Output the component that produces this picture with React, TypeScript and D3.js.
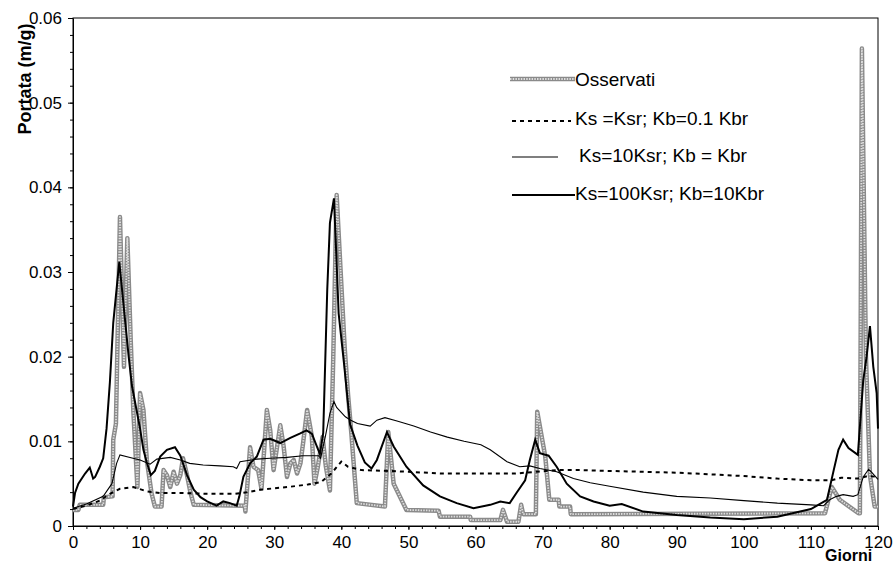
import React, { useRef, useEffect } from "react";
import * as d3 from "d3";

type Pt = [number, number];

// [giorno, portata m/g]
const osservati: Pt[] = [
  [0, 0.0019], [0.8, 0.0019], [1.0, 0.0025], [4.5, 0.0025], [4.6, 0.0034], [5.9, 0.0035],
  [6.0, 0.0102], [6.4, 0.0121], [7.0, 0.0365], [7.6, 0.0188], [8.1, 0.034], [8.6, 0.022],
  [9.0, 0.0135], [9.6, 0.0046], [10.0, 0.0157], [10.5, 0.0137], [11.0, 0.0078], [11.7, 0.0039],
  [12.2, 0.0023], [13.2, 0.0023], [13.5, 0.0066], [14.0, 0.006], [14.5, 0.0046], [15.0, 0.0064],
  [15.5, 0.005], [16.0, 0.006], [16.4, 0.008], [17.0, 0.006], [17.5, 0.004], [18.0, 0.0025],
  [25.6, 0.0024], [25.7, 0.0017], [26.4, 0.0093], [26.9, 0.007], [27.6, 0.0066], [28.1, 0.0044],
  [28.9, 0.0137], [29.4, 0.0113], [29.9, 0.0066], [30.9, 0.0119], [31.4, 0.0094], [31.9, 0.0058],
  [32.4, 0.0074], [32.9, 0.0078], [33.4, 0.0062], [33.9, 0.0074], [34.3, 0.0098], [34.9, 0.0137],
  [35.6, 0.0106], [36.0, 0.005], [36.5, 0.007], [37.2, 0.0105], [37.7, 0.007], [38.3, 0.0042],
  [38.8, 0.02], [39.3, 0.0391], [39.9, 0.03], [40.5, 0.021], [41.0, 0.0155], [41.5, 0.0109],
  [41.8, 0.0078], [42.3, 0.0027], [46.5, 0.0023], [47.0, 0.0111], [47.8, 0.005], [49.7, 0.0019],
  [54.5, 0.0018], [54.7, 0.0011], [59.2, 0.0011], [59.3, 0.0007], [63.7, 0.0007], [64.1, 0.0019],
  [64.7, 0.0005], [66.4, 0.0005], [66.8, 0.0025], [67.1, 0.0014], [69.0, 0.0014], [69.2, 0.0135],
  [70.4, 0.0082], [71.0, 0.0031], [72.4, 0.0031], [72.5, 0.0023], [74.1, 0.0023], [74.2, 0.0014],
  [112.1, 0.0015], [113.1, 0.0046], [114.3, 0.0031], [117.1, 0.0015], [117.3, 0.0015],
  [117.6, 0.0564], [118.2, 0.02], [118.8, 0.006], [119.5, 0.0023], [120, 0.0023],
];

// Ks =Ksr; Kb=0.1 Kbr
const simKsr: Pt[] = [
  [0, 0.002], [2, 0.0024], [4, 0.003], [5.5, 0.0038], [7, 0.0044], [9, 0.0046], [11, 0.0041],
  [13, 0.0039], [16, 0.0039], [20, 0.0038], [24, 0.0038], [26, 0.004], [28, 0.0043], [32, 0.0046],
  [35, 0.0049], [37, 0.0052], [38.5, 0.0062], [40, 0.0076], [41, 0.007], [43, 0.0066], [47, 0.0065],
  [50, 0.0064], [55, 0.0062], [60, 0.0062], [66, 0.0062], [69, 0.0064], [72, 0.0066], [76, 0.0066],
  [80, 0.0065], [85, 0.0064], [90, 0.0063], [95, 0.0061], [100, 0.0059], [105, 0.0056],
  [110, 0.0054], [113, 0.0054], [114.5, 0.0057], [117, 0.0056], [118.5, 0.0059], [120, 0.0058],
];

// Ks=10Ksr; Kb = Kbr
const sim10: Pt[] = [
  [0, 0.0021], [2, 0.0026], [4.5, 0.0035], [5.8, 0.005], [6.5, 0.0074], [7.0, 0.0084], [8.5, 0.0081],
  [10, 0.0078], [11.5, 0.0073], [12.5, 0.0079], [14.5, 0.0081], [16, 0.0078], [17.4, 0.0074],
  [19.4, 0.0072], [21.9, 0.0071], [23.9, 0.007], [24.4, 0.0068], [24.9, 0.0076], [27.4, 0.0079],
  [29.4, 0.008], [31.9, 0.0081], [34.3, 0.0083], [36.6, 0.0083], [36.9, 0.008], [37.6, 0.0105],
  [38.3, 0.0133], [38.9, 0.0147], [39.3, 0.014], [40.6, 0.0129], [41.4, 0.0125], [42.4, 0.0121],
  [44.3, 0.0118], [45.3, 0.0125], [46.5, 0.0128], [48.3, 0.0124], [50.8, 0.0118], [53.3, 0.0111],
  [55.8, 0.0105], [58.3, 0.01], [60.8, 0.0096], [62.2, 0.009], [64.7, 0.0076], [66.6, 0.007],
  [68.1, 0.0071], [69.6, 0.0068], [72.1, 0.0064], [74.6, 0.0056], [77.1, 0.0051], [80, 0.0047],
  [85, 0.004], [90, 0.0035], [95, 0.0033], [100, 0.003], [105, 0.0027], [110, 0.0025],
  [111.9, 0.0024], [112.8, 0.0031], [113.8, 0.0035], [114.8, 0.0037], [116.3, 0.0035],
  [117, 0.0037], [117.8, 0.0058], [118.6, 0.0067], [119.1, 0.0063], [120, 0.0055],
];

// Ks=100Ksr; Kb=10Kbr
const sim100: Pt[] = [
  [0, 0.0023], [0.3, 0.0039], [0.8, 0.005], [1.8, 0.0062], [2.5, 0.0069], [3.0, 0.0056], [3.3, 0.0058],
  [4.0, 0.007], [4.5, 0.008], [5.0, 0.0115], [5.5, 0.017], [6.0, 0.024], [6.5, 0.028], [6.9, 0.0312],
  [7.3, 0.028], [7.8, 0.024], [8.3, 0.02], [8.8, 0.0165], [9.4, 0.014], [10, 0.0115], [10.5, 0.009],
  [11, 0.0075], [11.6, 0.006], [12.2, 0.0065], [13, 0.0082], [14, 0.009], [15.2, 0.0093], [16, 0.0083],
  [17, 0.006], [18, 0.0043], [19, 0.0034], [20, 0.0029], [21.4, 0.0024], [22.4, 0.0029], [23.4, 0.0027],
  [24.4, 0.0024], [24.8, 0.0035], [25.4, 0.0058], [26.4, 0.0074], [27.4, 0.0082], [28.4, 0.0102],
  [29.4, 0.0103], [30.9, 0.0098], [32.4, 0.0104], [33.8, 0.0109], [34.8, 0.0113], [35.6, 0.0109],
  [36.8, 0.0085], [37.3, 0.011], [37.9, 0.0279], [38.3, 0.0358], [38.9, 0.0387], [39.2, 0.033],
  [39.6, 0.0251], [40.4, 0.0192], [41.3, 0.012], [42.4, 0.0095], [43.5, 0.0075], [44.5, 0.0068],
  [45.3, 0.0078], [46.8, 0.0111], [47.8, 0.0094], [49.7, 0.007], [52.2, 0.0048], [54.7, 0.0035],
  [57.2, 0.0027], [59.7, 0.0021], [62.2, 0.0025], [63.7, 0.0029], [65.1, 0.0027], [66.1, 0.0039],
  [67.4, 0.0054], [68.1, 0.0078], [68.9, 0.0102], [69.6, 0.0086], [70.9, 0.0083], [72.1, 0.007],
  [73.6, 0.005], [75.6, 0.0035], [77.6, 0.0029], [80, 0.0024], [81.8, 0.0026], [85, 0.0017],
  [90, 0.0013], [95, 0.001], [100, 0.0008], [105, 0.0011], [110, 0.002], [112.4, 0.0031],
  [113.4, 0.0066], [114.1, 0.009], [114.8, 0.0102], [115.6, 0.0092], [117, 0.0084], [117.3, 0.0117],
  [117.8, 0.0172], [118.3, 0.02], [118.8, 0.0236], [119.3, 0.0188], [119.8, 0.0157], [120, 0.0115],
];

const xTicks = [0, 10, 20, 30, 40, 50, 60, 70, 80, 90, 100, 110, 120];
const yTicks = [0, 0.01, 0.02, 0.03, 0.04, 0.05, 0.06];
const legendLabels = ["Osservati", "Ks =Ksr; Kb=0.1 Kbr", "Ks=10Ksr; Kb = Kbr", "Ks=100Ksr; Kb=10Kbr"];

const FONT = "Arial, 'Liberation Sans', sans-serif";

export default function App() {
  const svgRef = useRef<SVGSVGElement>(null);

  useEffect(() => {
    const svg = d3.select(svgRef.current);
    svg.selectAll("*").remove();

    const width = 893;
    const height = 566;
    const left = 73, right = 878, top = 18, bottom = 526;

    const x = d3.scaleLinear().domain([0, 120]).range([left, right]);
    const y = d3.scaleLinear().domain([0, 0.06]).range([bottom, top]);

    svg.attr("width", width).attr("height", height);
    svg.append("rect").attr("width", width).attr("height", height).attr("fill", "#fff");

    // frame
    svg.append("rect")
      .attr("x", left).attr("y", top)
      .attr("width", right - left).attr("height", bottom - top)
      .attr("fill", "none").attr("stroke", "#000").attr("stroke-width", 1);

    // Y axis minor + major
    const yMinor = svg.append("g").attr("transform", `translate(${left},0)`)
      .call(d3.axisLeft(y).tickValues(d3.range(0, 0.0601, 0.002)).tickSize(3).tickSizeOuter(0).tickFormat(() => ""));
    yMinor.select(".domain").remove();
    const yAxis = svg.append("g").attr("transform", `translate(${left},0)`)
      .call(d3.axisLeft(y).tickValues(yTicks).tickSize(5).tickSizeOuter(0).tickPadding(6)
        .tickFormat((d) => (+d === 0 ? "0" : (+d).toFixed(2))));
    yAxis.selectAll("text").attr("font-size", "17px").attr("font-family", FONT).attr("fill", "#000");

    // X axis minor + major
    const xMinor = svg.append("g").attr("transform", `translate(0,${bottom})`)
      .call(d3.axisBottom(x).tickValues(d3.range(0, 121, 2)).tickSize(3).tickSizeOuter(0).tickFormat(() => ""));
    xMinor.select(".domain").remove();
    const xAxis = svg.append("g").attr("transform", `translate(0,${bottom})`)
      .call(d3.axisBottom(x).tickValues(xTicks).tickSize(4).tickSizeOuter(0).tickPadding(18)
        .tickFormat((d) => `${d}`));
    xAxis.selectAll("text").attr("font-size", "17px").attr("font-family", FONT).attr("fill", "#000")
      .attr("dy", "0");

    svg.selectAll(".domain").attr("stroke", "#000");
    svg.selectAll(".tick line").attr("stroke", "#000");

    // axis titles
    svg.append("text")
      .attr("transform", `translate(31,79) rotate(-90)`)
      .attr("text-anchor", "middle")
      .attr("font-family", FONT).attr("font-weight", "bold").attr("font-size", "18px")
      .text("Portata (m/g)");
    svg.append("text")
      .attr("x", 825).attr("y", 561)
      .attr("font-family", FONT).attr("font-weight", "bold").attr("font-size", "16px")
      .text("Giorni");

    const line = d3.line<Pt>().x((d) => x(d[0])).y((d) => y(d[1]));

    const drawObs = (g: any, d: string) => {
      g.append("path").attr("d", d).attr("fill", "none").attr("stroke", "#8a8a8a")
        .attr("stroke-width", 4.5).attr("stroke-linejoin", "round");
      g.append("path").attr("d", d).attr("fill", "none").attr("stroke", "#dedede")
        .attr("stroke-width", 1.8).attr("stroke-dasharray", "1.5,1.2").attr("stroke-linejoin", "round");
    };

    const plot = svg.append("g");
    drawObs(plot, line(osservati) as string);
    plot.append("path").attr("d", line(simKsr)).attr("fill", "none").attr("stroke", "#000")
      .attr("stroke-width", 2).attr("stroke-dasharray", "4,4");
    plot.append("path").attr("d", line(sim10)).attr("fill", "none").attr("stroke", "#000")
      .attr("stroke-width", 1.1);
    plot.append("path").attr("d", line(sim100)).attr("fill", "none").attr("stroke", "#000")
      .attr("stroke-width", 2);

    // legend
    const lg = svg.append("g");
    drawObs(lg, "M510,79H575");
    lg.append("line").attr("x1", 512).attr("x2", 571).attr("y1", 121).attr("y2", 121)
      .attr("stroke", "#000").attr("stroke-width", 2).attr("stroke-dasharray", "4,4");
    lg.append("line").attr("x1", 512).attr("x2", 558).attr("y1", 157).attr("y2", 157)
      .attr("stroke", "#000").attr("stroke-width", 1.1);
    lg.append("line").attr("x1", 512).attr("x2", 575).attr("y1", 195).attr("y2", 195)
      .attr("stroke", "#000").attr("stroke-width", 2);
    const textPos = [[575, 86], [575, 125], [579, 162], [575, 200]];
    legendLabels.forEach((t, i) => {
      lg.append("text").attr("x", textPos[i][0]).attr("y", textPos[i][1])
        .attr("font-family", FONT).attr("font-size", "19px").attr("fill", "#000").text(t);
    });
  }, []);

  return <svg ref={svgRef} style={{ position: "absolute", left: 0, top: 0, display: "block" }} />;
}
